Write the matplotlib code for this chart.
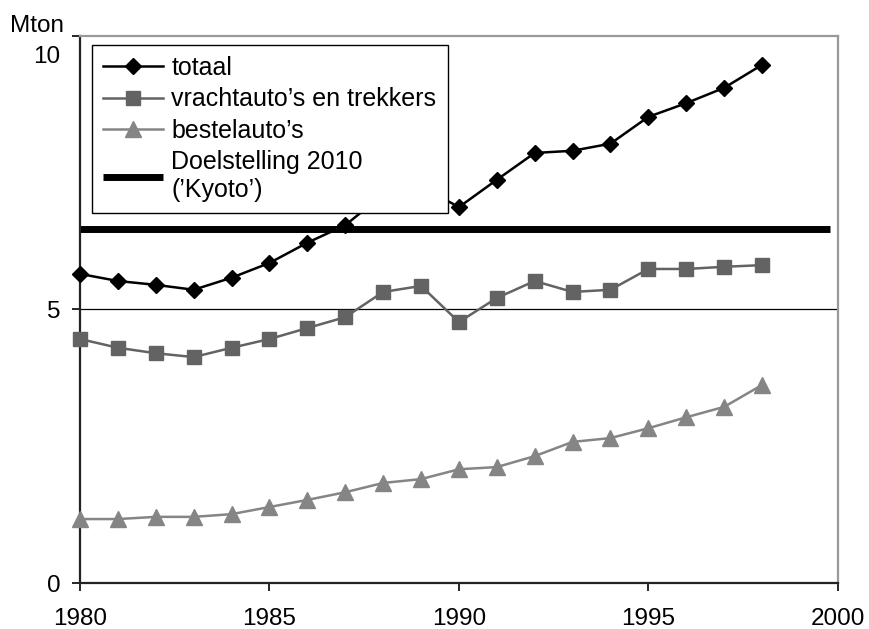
import numpy as np
import matplotlib.pyplot as plt
import matplotlib.transforms as mtransforms

plt.rcParams['font.family'] = ['Liberation Sans', 'DejaVu Sans']

# Data (Mton)
years = list(range(1980, 1999))
totaal = [5.65, 5.52, 5.45, 5.36, 5.58, 5.85, 6.22, 6.54, 7.10, 7.25,
          6.87, 7.37, 7.86, 7.90, 8.03, 8.52, 8.77, 9.05, 9.47]
vracht = [4.46, 4.30, 4.20, 4.13, 4.30, 4.46, 4.66, 4.86, 5.32, 5.43,
          4.77, 5.21, 5.52, 5.32, 5.36, 5.74, 5.74, 5.78, 5.81]
bestel = [1.17, 1.17, 1.21, 1.21, 1.26, 1.39, 1.52, 1.66, 1.83, 1.90,
          2.08, 2.12, 2.32, 2.58, 2.65, 2.83, 3.03, 3.22, 3.62]
kyoto = 6.47
x_ticks = [1980, 1985, 1990, 1995, 2000]
y_ticks = [0, 5, 10]

fig = plt.figure(figsize=(8.7, 6.29), dpi=100)
ax = fig.add_axes([0.092, 0.073, 0.871, 0.870])

# Kyoto target line
ax.plot([1980, 1999.8], [kyoto, kyoto], color='black', lw=5,
        solid_capstyle='butt', label="Doelstelling 2010\n(\u2019Kyoto\u2019)", zorder=2)

# gridline at 5
ax.axhline(5, color='black', lw=0.9, zorder=1)

ax.plot(years, bestel, color='#858585', lw=1.8, marker='^', ms=11,
        label="bestelauto\u2019s", zorder=3, clip_on=False)
ax.plot(years, vracht, color='#636363', lw=1.8, marker='s', ms=10,
        label="vrachtauto\u2019s en trekkers", zorder=3, clip_on=False)
ax.plot(years, totaal, color='black', lw=1.8, marker='D', ms=8.5,
        label='totaal', zorder=4, clip_on=False)

ax.set_xlim(1980, 2000)
ax.set_ylim(0, 10)
ax.set_xticks(x_ticks)
ax.set_yticks(y_ticks)
ax.tick_params(labelsize=17.5, length=6, width=1.2, direction='out')
ax.tick_params(axis='x', pad=12)
ax.tick_params(axis='y', pad=8)

# "10" label sits lower than its tick in the original
lbl10 = ax.get_yticklabels()[-1]
lbl10.set_transform(lbl10.get_transform() +
                    mtransforms.ScaledTranslation(0, -0.19, fig.dpi_scale_trans))

for side in ['left', 'bottom']:
    ax.spines[side].set_color('#222222')
    ax.spines[side].set_linewidth(1.6)
for side in ['top', 'right']:
    ax.spines[side].set_color('#999999')
    ax.spines[side].set_linewidth(1.6)

fig.text(0.011, 0.958, 'Mton', fontsize=17.5, va='center', ha='left')

handles, labels = ax.get_legend_handles_labels()
order = [3, 2, 1, 0]
leg = ax.legend([handles[i] for i in order], [labels[i] for i in order],
                loc='upper left', bbox_to_anchor=(0.016, 0.984),
                borderaxespad=0, fontsize=18, frameon=True, fancybox=False,
                edgecolor='black', framealpha=1, handlelength=2.4,
                handletextpad=0.32, labelspacing=0.3, borderpad=0.45)
leg.set_zorder(10)
leg.get_frame().set_linewidth(1.0)

fig.savefig('out.png', dpi=100)
